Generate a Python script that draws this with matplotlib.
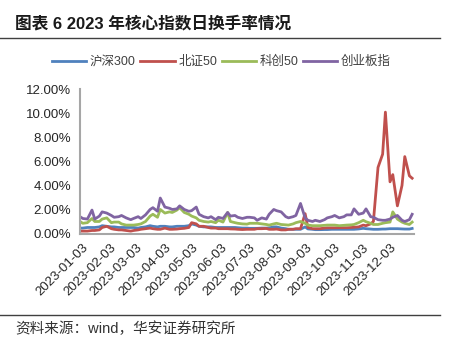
import matplotlib
matplotlib.use('Agg')
import matplotlib.pyplot as plt
import matplotlib.transforms as mtransforms
from matplotlib.lines import Line2D
from matplotlib.ticker import FuncFormatter
import pandas as pd

plt.rcParams['font.family'] = ['Liberation Sans', 'Noto Sans CJK SC']

# trading days, every 3rd one
dates = pd.bdate_range('2023-01-03', '2023-12-29', freq='3B')

names = ['沪深300', '北证50', '科创50', '创业板指']
colors = ['#4F81BD', '#C0504D', '#9BBB59', '#8064A2']

# daily turnover, %
hs300 = [0.45, 0.45, 0.5, 0.5, 0.5, 0.55, 0.65, 0.6, 0.55, 0.55,
         0.5, 0.5, 0.5, 0.5, 0.5, 0.45, 0.5, 0.55, 0.65, 0.6,
         0.55, 0.6, 0.6, 0.55, 0.55, 0.6, 0.6, 0.6, 0.65, 0.8,
         0.7, 0.6, 0.55, 0.55, 0.55, 0.5, 0.5, 0.5, 0.5, 0.5,
         0.5, 0.48, 0.45, 0.45, 0.43, 0.43, 0.43, 0.45, 0.45, 0.47,
         0.55, 0.55, 0.45, 0.4, 0.35, 0.35, 0.35, 0.35, 0.55, 0.38,
         0.35, 0.32, 0.32, 0.33, 0.33, 0.35, 0.35, 0.35, 0.35, 0.35,
         0.35, 0.35, 0.38, 0.43, 0.4, 0.37, 0.35, 0.35, 0.37, 0.37,
         0.4, 0.4, 0.4, 0.38, 0.37, 0.37, 0.42]
bz50 = [0.2, 0.2, 0.2, 0.25, 0.25, 0.3, 0.5, 0.6, 0.4, 0.35,
        0.3, 0.3, 0.25, 0.2, 0.25, 0.3, 0.35, 0.4, 0.45, 0.4,
        0.35, 0.35, 0.45, 0.35, 0.35, 0.37, 0.4, 0.43, 0.5, 0.9,
        0.8, 0.6, 0.6, 0.5, 0.45, 0.45, 0.4, 0.4, 0.4, 0.38,
        0.37, 0.35, 0.33, 0.35, 0.35, 0.35, 0.4, 0.4, 0.42, 0.35,
        0.35, 0.37, 0.3, 0.3, 0.35, 0.35, 0.4, 0.4, 1.65, 0.5,
        0.4, 0.4, 0.4, 0.45, 0.47, 0.47, 0.47, 0.48, 0.48, 0.48,
        0.5, 0.52, 0.55, 0.7, 0.65, 0.8, 1.0, 5.5, 6.6, 10.1,
        4.3, 4.9, 2.3, 4.0, 6.4, 4.8, 4.6]
kc50 = [1.0, 0.85, 0.9, 1.25, 1.0, 1.0, 1.2, 1.3, 0.9, 0.95,
        0.95, 0.8, 0.7, 0.7, 0.7, 0.75, 0.8, 1.0, 1.45, 1.6,
        1.35, 2.0, 1.7, 1.8, 1.75, 1.95, 2.15, 1.75, 1.6, 1.45,
        1.3, 1.1, 1.0, 0.95, 1.0, 0.9, 1.1, 0.95, 1.75, 1.0,
        0.9, 0.85, 0.8, 0.78, 0.85, 0.85, 0.85, 0.8, 0.75, 0.7,
        0.8, 0.85, 0.75, 0.72, 0.7, 0.8, 0.9, 1.0, 0.85, 0.7,
        0.65, 0.65, 0.65, 0.68, 0.7, 0.7, 0.7, 0.65, 0.68, 0.7,
        0.72, 0.75, 0.9, 1.1, 0.98, 0.85, 0.75, 0.75, 0.85, 0.9,
        0.95, 1.8, 1.2, 0.95, 0.85, 0.75, 0.95]
cyb = [1.4, 1.25, 1.2, 1.95, 1.2, 1.45, 1.8, 1.7, 1.5, 1.35,
       1.4, 1.5, 1.3, 1.15, 1.25, 1.4, 1.25, 1.55, 2.0, 2.15,
       1.85, 2.95, 2.2, 2.1, 2.0, 2.05, 2.3, 2.0, 1.85, 1.9,
       2.2, 1.6, 1.4, 1.3, 1.4, 1.15, 1.35, 1.25, 1.75, 1.45,
       1.5, 1.35, 1.25, 1.35, 1.35, 1.3, 1.1, 1.3, 1.2, 1.6,
       2.0, 1.9, 1.8, 1.4, 1.3, 1.4, 1.5, 2.5, 1.3, 1.1,
       1.0, 1.1, 1.0, 1.15, 1.3, 1.4, 1.5, 1.3, 1.4, 1.55,
       1.55, 2.05, 1.6, 1.7, 2.05, 1.4, 1.35, 1.15, 1.1, 1.1,
       1.2, 1.35, 1.5, 1.1, 1.0, 1.15, 1.6]

tick_labels = ['2023-%02d-03' % m for m in range(1, 13)]

fig = plt.figure(figsize=(4.52, 3.40), dpi=100)
ax = fig.add_axes([80 / 452, 106.5 / 340, 334 / 452, 144.2 / 340])

handles = []
for vals, name, c in zip([hs300, bz50, kc50, cyb], names, colors):
    h, = ax.plot(dates, vals, color=c, lw=2.0, label=name)
    handles.append(h)

ax.set_ylim(0, 12)
ax.set_yticks([0, 2, 4, 6, 8, 10, 12])
ax.yaxis.set_major_formatter(FuncFormatter(lambda v, p: '%.2f%%' % v))
ax.set_xlim(pd.Timestamp('2023-01-03'), pd.Timestamp('2023-12-31'))
ax.set_xticks(pd.to_datetime(tick_labels))
ax.set_xticklabels(tick_labels, rotation=45, ha='right', va='center',
                   rotation_mode='anchor')
ax.tick_params(axis='both', length=0, labelsize=9.5, labelcolor='#262626')
ax.tick_params(axis='y', pad=6.5)
ax.tick_params(axis='x', pad=9)
off = mtransforms.ScaledTranslation(6 / 100, 0, fig.dpi_scale_trans)
for lab in ax.get_xticklabels():
    lab.set_transform(lab.get_transform() + off)

for s in ['top', 'right']:
    ax.spines[s].set_visible(False)
for s in ['left', 'bottom']:
    ax.spines[s].set_color('#A6A6A6')
    ax.spines[s].set_linewidth(1.5)

fig.legend(handles, names, loc='center', bbox_to_anchor=(221.5 / 452, 1 - 62 / 340),
           ncol=4, frameon=False, fontsize=9, handlelength=2.75,
           handletextpad=0.3, columnspacing=0.35, labelcolor='#404040')

fig.text(15 / 452, 1 - 24 / 340, '图表 6 2023 年核心指数日换手率情况',
         fontsize=12, fontweight='bold', va='center', color='#1a1a1a')
fig.add_artist(Line2D([0, 440 / 452], [1 - 38 / 340] * 2, color='#404040', lw=1))
fig.add_artist(Line2D([0, 440 / 452], [1 - 315 / 340] * 2, color='#404040', lw=1))
fig.text(15 / 452, 1 - 329 / 340, '资料来源：wind，华安证券研究所',
         fontsize=10.5, va='center', color='#333333')

fig.savefig('out.png', dpi=100)
